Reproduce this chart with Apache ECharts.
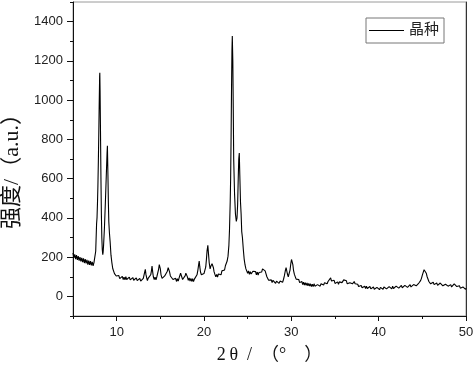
<!DOCTYPE html>
<html>
<head>
<meta charset="utf-8">
<script src="https://cdn.jsdelivr.net/npm/echarts@6/dist/echarts.min.js"></script>
<style>
html,body{margin:0;padding:0;background:#fff;}
#chart{width:474px;height:371px;}
</style>
</head>
<body>
<div id="chart"></div>
<script>
//XRD 数据 [2θ, 强度]，按区段分开
var scanA = [
	[5.0,222],[5.1,196],[5.2,214],[5.3,190],[5.4,210],[5.5,186],[5.6,205],[5.7,182],[5.8,200],[5.9,178],
	[6.0,196],[6.1,174],[6.2,194],[6.3,170],[6.4,190],[6.5,168],[6.6,186],[6.7,162],[6.8,182],[6.9,160],
	[7.0,180],[7.1,158],[7.2,176],[7.3,156],[7.4,172],[7.5,162],[7.6,230],[7.7,370],[7.75,400],[7.8,470],
	[7.85,560],[7.9,680],[7.95,820],[8.0,980],[8.05,1120],[8.07,1140],[8.1,1050],[8.15,830],[8.2,600],[8.25,420],
	[8.3,300],[8.35,240],[8.41,212],[8.45,225],[8.5,260],[8.6,350],[8.7,470],[8.8,600],[8.9,730],[8.94,767],
	[9.0,620],[9.05,480],[9.1,380],[9.17,324],[9.25,280],[9.35,210],[9.45,172],[9.55,142],[9.65,134],[9.75,116],
	[9.85,124],[9.95,104]
];
var scanB = [
	[10.05,110],[10.15,94],[10.25,106],[10.35,90],[10.45,100],[10.55,88],[10.65,102],[10.75,86],[10.85,98],[10.95,84],
	[11.05,100],[11.15,86],[11.25,96],[11.35,82],[11.45,98],[11.55,84],[11.65,94],[11.75,80],[11.85,96],[11.95,82],
	[12.05,92],[12.15,78],[12.25,94],[12.35,80],[12.45,90],[12.55,76],[12.65,92],[12.75,78],[12.85,88],[12.95,74],
	[13.05,92],[13.12,98],[13.2,122],[13.28,138],[13.35,112],[13.45,92],[13.52,80],[13.6,92],[13.7,82],[13.8,96],
	[13.9,110],[13.98,130],[14.05,154],[14.12,126],[14.2,100],[14.3,86],[14.4,98],[14.5,84],[14.6,100],[14.7,110],
	[14.8,138],[14.88,162],[14.92,172],[15.0,140],[15.08,110],[15.2,92],[15.3,102],[15.4,88],[15.5,104],[15.6,96],
	[15.7,112],[15.8,128],[15.9,146],[15.96,154],[16.05,126],[16.15,104],[16.25,96],[16.35,104],[16.45,86],[16.55,96],
	[16.65,80],[16.75,92],[16.85,76],[16.95,90],[17.05,78],[17.15,94],[17.25,104],[17.32,118],[17.38,122],[17.45,100],
	[17.55,86],[17.65,96],[17.75,84],[17.85,106],[17.92,118],[17.99,124],[18.08,102],[18.2,82],[18.3,94],[18.4,78],
	[18.5,92],[18.6,76],[18.7,90],[18.8,76],[18.9,88],[19.0,80],[19.1,98],[19.2,110],[19.3,134],[19.38,160],
	[19.45,180],[19.52,150],[19.6,124],[19.7,110],[19.8,118],[19.9,102],[20.0,116],[20.1,126],[20.2,150],[20.28,190],
	[20.35,232],[20.44,260],[20.52,214],[20.6,170],[20.7,140],[20.78,154],[20.85,148],[20.92,166],[21.0,172],[21.08,146],
	[21.15,126],[21.25,112],[21.35,100],[21.45,112],[21.55,98],[21.65,114],[21.75,104],[21.85,120],[21.95,110],[22.05,130],
	[22.15,122],[22.25,140],[22.35,134],[22.45,156],[22.55,158]
];
var scanC = [
	[22.65,180],[22.75,205],[22.85,260],[22.92,340],[23.0,480],[23.05,600],[23.1,800],[23.15,1050],[23.2,1250],[23.24,1327],
	[23.3,1200],[23.35,960],[23.4,700],[23.5,520],[23.6,420],[23.7,382],[23.78,400],[23.85,467],[23.92,600],[23.98,700],
	[24.04,730],[24.1,620],[24.18,480],[24.25,420],[24.32,330],[24.4,300],[24.45,290],[24.5,240],[24.6,190],[24.7,160],
	[24.8,140],[24.9,132],[25.0,118],[25.1,130],[25.2,112],[25.3,126],[25.4,114],[25.5,122],[25.6,128],[25.7,138],
	[25.8,118],[25.9,126],[26.0,110],[26.1,124],[26.2,108],[26.3,122],[26.4,116],[26.5,130],[26.6,124],[26.7,140],
	[26.8,132],[26.9,148],[27.0,130],[27.1,120],[27.2,100],[27.3,96],[27.4,82],[27.5,90],[27.6,74],[27.7,84],
	[27.8,70],[27.9,82],[28.0,72],[28.1,80],[28.2,66],[28.3,78],[28.4,68],[28.5,80],[28.6,66],[28.7,78],
	[28.8,68],[28.9,80],[29.0,72],[29.1,86],[29.2,104],[29.3,128],[29.4,146],[29.48,140],[29.55,114],[29.65,100],
	[29.75,110],[29.85,134],[29.95,170],[30.02,188],[30.1,178],[30.18,160],[30.25,132],[30.35,112],[30.45,102],[30.55,88],
	[30.65,96],[30.75,78],[30.85,86],[30.95,70],[31.05,78]
];
var scanD = [
	[31.1,64],[31.2,76],[31.3,60],[31.4,72],[31.5,58],[31.6,70],[31.7,56],[31.8,68],[31.9,54],[32.0,66],
	[32.1,52],[32.2,64],[32.3,50],[32.4,62],[32.5,50],[32.6,64],[32.7,52],[32.8,62],[32.9,48],[33.0,60],
	[33.1,50],[33.2,62],[33.3,52],[33.4,64],[33.5,56],[33.6,68],[33.7,58],[33.8,70],[33.9,60],[34.0,72],
	[34.1,64],[34.2,76],[34.3,72],[34.4,86],[34.5,94],[34.6,78],[34.7,86],[34.8,72],[34.9,82],[35.0,66],
	[35.1,76],[35.2,64],[35.3,74],[35.4,62],[35.5,74],[35.6,66],[35.7,78],[35.8,70],[35.9,80],[36.0,84],
	[36.1,92],[36.2,76],[36.3,80],[36.4,64],[36.5,72],[36.6,60],[36.7,70],[36.8,60],[36.9,72],[37.0,64],
	[37.1,74],[37.2,76],[37.3,64],[37.4,66],[37.5,54],[37.6,62],[37.7,50],[37.8,58],[37.9,46],[38.0,56],
	[38.1,44],[38.2,54],[38.3,42],[38.4,52],[38.5,40],[38.6,52],[38.7,40],[38.8,50],[38.9,38],[39.0,50],
	[39.1,38],[39.2,48],[39.3,36],[39.4,48],[39.5,36],[39.6,46],[39.7,34],[39.8,46],[39.9,36],[40.0,46],
	[40.1,34],[40.2,46],[40.3,36],[40.4,48],[40.5,36],[40.6,48],[40.7,38],[40.8,50],[40.9,38],[41.0,48],
	[41.1,38],[41.2,50],[41.3,40],[41.4,50],[41.5,38],[41.6,52],[41.7,40],[41.8,50],[41.9,40],[42.0,52],
	[42.1,42],[42.2,54],[42.3,42],[42.4,52],[42.5,44],[42.6,56],[42.7,44],[42.8,54],[42.9,44],[43.0,56],
	[43.1,46],[43.2,58],[43.3,46],[43.4,56],[43.5,48],[43.6,60],[43.7,48],[43.8,58],[43.9,50],[44.0,60],
	[44.1,50],[44.2,62],[44.3,54],[44.4,64],[44.5,58],[44.6,68],[44.7,66],[44.8,80],[44.9,92],[45.0,108],
	[45.1,122],[45.2,136],[45.27,142],[45.35,128],[45.45,118],[45.55,100],[45.65,90],[45.75,76],[45.85,80],[45.95,64],
	[46.05,74],[46.15,62],[46.25,72],[46.35,60],[46.45,70],[46.55,58],[46.65,68],[46.75,56],[46.85,66],[46.95,56],
	[47.05,68],[47.15,58],[47.25,66],[47.35,54],[47.45,64],[47.55,52],[47.65,62],[47.75,54],[47.85,66],[47.95,52],
	[48.05,62],[48.15,50],[48.25,60],[48.35,48],[48.45,58],[48.55,52],[48.65,64],[48.75,56],[48.85,62],[48.95,50],
	[49.05,56],[49.15,44],[49.25,54],[49.35,42],[49.45,52],[49.55,40],[49.65,48],[49.75,38],[49.85,46],[49.95,36],
	[50.0,42]
];

var xMajor = [10,20,30,40,50];
var xMinor = [5,15,25,35,45];
var yMajor = [0,200,400,600,800,1000,1200,1400];
var yMinor = [-100,100,300,500,700,900,1100,1300,1500];

var myChart = echarts.init(document.getElementById('chart'));
var serifFont = 'Liberation Serif, Noto Sans CJK SC, serif';
var sansFont = 'Liberation Sans, Arial, sans-serif';

function plainNum(v){
	return String(v);
}

var option = {
	backgroundColor:'#fff',
	animation:false,
	grid:{
		left:73, right:8, top:2, bottom:55,
		outerBoundsMode:'none',
		show:true, borderColor:'#9a9a9a', borderWidth:1
	},
	legend:{
		left:366, top:18,
		padding:[5,5,5,3],
		itemWidth:35, itemHeight:1,
		borderColor:'#777', borderWidth:1,
		textStyle:{fontFamily:serifFont, fontSize:15, color:'#222'},
		data:[{name:'晶种', icon:'rect'}]
	},
	xAxis:[
		{
			type:'value', min:5, max:50, position:'bottom',
			name:'2\u2009θ  /  （°    ）', nameLocation:'middle', nameGap:30,
			nameTextStyle:{fontFamily:serifFont, fontSize:18, color:'#111'},
			axisLine:{show:true, onZero:false, lineStyle:{color:'#111', width:1}},
			axisTick:{show:true, length:5, lineStyle:{color:'#111'}, customValues:xMajor},
			axisLabel:{show:true, margin:10, fontFamily:sansFont, fontSize:13, color:'#222', customValues:xMajor, formatter:plainNum},
			splitLine:{show:false}
		},
		{
			type:'value', min:5, max:50, position:'bottom',
			axisLine:{show:false, onZero:false},
			axisTick:{show:true, length:3, lineStyle:{color:'#111'}, customValues:xMinor},
			axisLabel:{show:false},
			splitLine:{show:false}
		}
	],
	yAxis:[
		{
			type:'value', min:-100, max:1500, position:'left',
			name:'强度/（a.u.）', nameLocation:'middle', nameGap:50, nameRotate:90,
			nameTextStyle:{fontFamily:serifFont, fontSize:22, color:'#111', padding:[0,14,0,0]},
			axisLine:{show:true, onZero:false, lineStyle:{color:'#111', width:1}},
			axisTick:{show:true, length:6, lineStyle:{color:'#111'}, customValues:yMajor},
			axisLabel:{show:true, margin:10, fontFamily:sansFont, fontSize:13, color:'#222', customValues:yMajor, formatter:plainNum},
			splitLine:{show:false}
		},
		{
			type:'value', min:-100, max:1500, position:'left',
			axisLine:{show:false, onZero:false},
			axisTick:{show:true, length:3, lineStyle:{color:'#111'}, customValues:yMinor},
			axisLabel:{show:false},
			splitLine:{show:false}
		},
		{
			type:'value', min:-100, max:1500, position:'right',
			axisLine:{show:true, onZero:false, lineStyle:{color:'#333', width:1}},
			axisTick:{show:false}, axisLabel:{show:false},
			splitLine:{show:false}
		}
	],
	series:[
		{
			name:'晶种',
			type:'line',
			xAxisIndex:0, yAxisIndex:0,
			symbol:'none',
			lineStyle:{color:'#000', width:1.1},
			itemStyle:{color:'#000'},
			data:scanA.concat(scanB, scanC, scanD)
		}
	]
};
myChart.setOption(option);
</script>
</body>
</html>
